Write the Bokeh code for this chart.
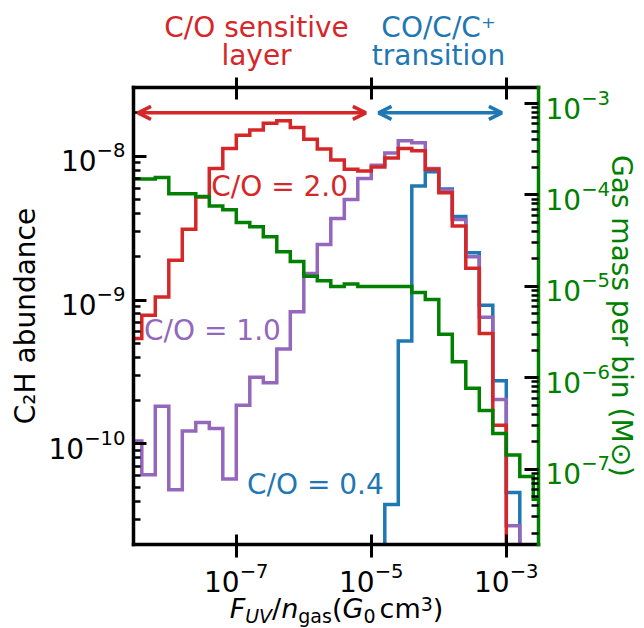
import math
from bokeh.plotting import figure
from bokeh.layouts import column
from bokeh.models import (Range1d, LogScale, LogAxis, FixedTicker, Label, Arrow,
                          OpenHead, CustomJSTickFormatter)
from bokeh.embed import file_html
from bokeh.resources import INLINE

# ---------------- data ----------------
# histogram bin edges, log10(F_UV / n_gas)
bin_edges_log10 = [-8.6, -8.4, -8.2, -8.0, -7.8, -7.6, -7.4, -7.2, -7.0, -6.8,
                   -6.6, -6.4, -6.2, -6.0, -5.8, -5.6, -5.4, -5.2, -5.0, -4.8,
                   -4.6, -4.4, -4.2, -4.0, -3.8, -3.6, -3.4, -3.2, -3.0, -2.8,
                   -2.6, -2.4]

# C2H abundance per bin (0 = below the plotted range)
c2h_co04 = [0, 0, 0, 0, 0, 0, 0, 0, 0, 0,
            0, 0, 0, 0, 0, 0, 0, 0, 0, 3.8e-11,
            5.2e-10, 6.2e-9, 7.8e-9, 5.9e-9, 3.8e-9, 2.13e-9, 9.2e-10, 2.75e-10, 4.6e-11, 0,
            0]
c2h_co10 = [1.05e-10, 6.1e-11, 1.83e-10, 4.8e-11, 1.23e-10, 1.41e-10, 1.28e-10, 5.7e-11, 1.86e-10, 2.91e-10,
            2.66e-10, 4.56e-10, 8.3e-10, 1.53e-9, 2.43e-9, 3.69e-9, 5.0e-9, 7.0e-9, 8.65e-9, 1.05e-8,
            1.28e-8, 1.24e-8, 8.2e-9, 5.8e-9, 3.63e-9, 2.0e-9, 7.6e-10, 2.04e-10, 2.7e-11, 0,
            0]
c2h_co20 = [5.4e-10, 7.85e-10, 1.05e-9, 1.89e-9, 3.1e-9, 5.2e-9, 8.2e-9, 1.13e-8, 1.40e-8, 1.52e-8,
            1.69e-8, 1.76e-8, 1.58e-8, 1.31e-8, 1.12e-8, 9.4e-9, 8.1e-9, 7.9e-9, 8.4e-9, 9.7e-9,
            1.13e-8, 1.09e-8, 8.1e-9, 5.56e-9, 3.27e-9, 1.66e-9, 5.86e-10, 1.35e-10, 0, 0,
            0]
# gas mass per bin (Msun)
gas_mass = [1.5e-4, 1.5e-4, 1.55e-4, 1.03e-4, 1.03e-4, 9.6e-5, 7.6e-5, 6.9e-5, 5.0e-5, 4.5e-5,
            3.5e-5, 2.4e-5, 1.87e-5, 1.29e-5, 1.15e-5, 1.0e-5, 1.06e-5, 1.0e-5, 1.0e-5, 1.0e-5,
            1.0e-5, 8.6e-6, 7.2e-6, 3.0e-6, 1.5e-6, 7.7e-7, 4.4e-7, 2.45e-7, 1.43e-7, 8.3e-8,
            4.7e-8]

x_major_ticks = [1e-7, 1e-5, 1e-3]
left_major_ticks = [1e-10, 1e-9, 1e-8]
right_major_ticks = [1e-7, 1e-6, 1e-5, 1e-4, 1e-3]

series_labels = ["C/O = 0.4", "C/O = 1.0", "C/O = 2.0"]
region_labels = [["C/O sensitive", "layer"], ["CO/C/C\u207a", "transition"]]
y_label_left = "C\u2082H abundance"
y_label_right = "Gas mass per bin (M\u2299)"

# annotation placement (data coordinates)
label_pos = {"C/O = 2.0": (4.25e-8, 6.2e-9), "C/O = 1.0": (4.3e-9, 6.1e-10), "C/O = 0.4": (1.44e-7, 5.2e-11)}
arrow_y = 2e-8
red_arrow_x = (3.5e-9, 8.3e-6)
blue_arrow_x = (1.28e-5, 8.6e-4)

# ---------------- styling ----------------
RED, PURPLE, BLUE, GREEN = "#d62728", "#9467bd", "#1f77b4", "#008000"
FONT = "DejaVu Sans"
FS = 28
LW = 3.5

W = 644
H_TOP, H_MAIN, H_BOT = 77, 519, 32


def blank_fig(h):
    f = figure(width=W, height=h, x_range=Range1d(0, W), y_range=Range1d(h, 0),
               x_axis_location=None, y_axis_location=None, title=None,
               output_backend="svg", toolbar_location=None, min_border=0)
    f.outline_line_color = None
    f.xgrid.visible = False
    f.ygrid.visible = False
    f.background_fill_color = "white"
    f.border_fill_color = "white"
    return f


p = figure(width=W, height=H_MAIN, x_axis_type="log", y_axis_type="log",
           x_range=Range1d(3e-9, 3e-3), y_range=Range1d(2e-11, 3e-8),
           output_backend="svg", toolbar_location=None, title=None,
           min_border_left=133, min_border_right=106, min_border_top=10, min_border_bottom=52)
p.outline_line_color = None
p.xgrid.visible = False
p.ygrid.visible = False
p.background_fill_color = "white"
p.border_fill_color = "white"
p.extra_y_ranges = {"mass": Range1d(1.5e-8, 1.5e-3)}
p.extra_y_scales = {"mass": LogScale()}


def minor_list(k0, k1):
    return [m * 10.0 ** k for k in range(k0, k1) for m in range(2, 10)]


def style_axis(ax, tin, tout, min_in, line_color="black", label_color="black", standoff=8):
    ax.axis_line_width = LW
    ax.axis_line_color = line_color
    ax.axis_line_cap = "square"
    ax.major_tick_line_width = 3
    ax.major_tick_line_color = "black"
    ax.minor_tick_line_width = 2.5
    ax.minor_tick_line_color = "black"
    ax.major_tick_in = tin
    ax.major_tick_out = tout
    ax.minor_tick_in = min_in
    ax.minor_tick_out = 0
    ax.major_label_text_font = FONT
    ax.major_label_text_font_size = f"{FS}px"
    ax.major_label_text_color = label_color
    ax.major_label_standoff = standoff
    ax.axis_label_text_font = FONT
    ax.axis_label_text_font_size = f"{FS}px"
    ax.axis_label_text_font_style = "normal"
    ax.axis_label_text_color = label_color


xb = p.xaxis[0]
xb.ticker = FixedTicker(ticks=x_major_ticks, minor_ticks=[])
style_axis(xb, 10, 13, 0, standoff=4)

yl = p.yaxis[0]
yl.ticker = FixedTicker(ticks=left_major_ticks, minor_ticks=minor_list(-11, -7))
style_axis(yl, 13, 0, 7)
yl.axis_label = y_label_left
yl.axis_label_standoff = 4

xt = LogAxis(ticker=FixedTicker(ticks=x_major_ticks, minor_ticks=[]),
             formatter=CustomJSTickFormatter(code="return ''"))
style_axis(xt, 12, 10, 0, standoff=0)
xt.major_label_text_font_size = "1px"
p.add_layout(xt, "above")

yr = LogAxis(y_range_name="mass",
             ticker=FixedTicker(ticks=right_major_ticks, minor_ticks=minor_list(-8, -2)))
style_axis(yr, 14, 0, 7, line_color=GREEN, label_color=GREEN, standoff=7)
yr.axis_label = y_label_right
yr.axis_label_standoff = -8
p.add_layout(yr, "right")

FLOOR = 1e-30


def step_path(edges_log, vals):
    xs, ys = [], []
    for i, v in enumerate(vals):
        yv = v if v > 0 else FLOOR
        xs += [10.0 ** edges_log[i], 10.0 ** edges_log[i + 1]]
        ys += [yv, yv]
    return xs, ys


for vals, col in [(c2h_co04, BLUE), (c2h_co10, PURPLE), (c2h_co20, RED)]:
    xs, ys = step_path(bin_edges_log10, vals)
    p.line(xs, ys, line_color=col, line_width=LW, line_join="miter")

xs, ys = step_path(bin_edges_log10, gas_mass)
p.line(xs, ys, line_color=GREEN, line_width=LW, line_join="miter", y_range_name="mass")

# arrows
for (xa, xb_), col in [(red_arrow_x, RED), (blue_arrow_x, BLUE)]:
    p.add_layout(Arrow(start=OpenHead(size=13, line_color=col, line_width=LW),
                       end=OpenHead(size=13, line_color=col, line_width=LW),
                       x_start=xa, y_start=arrow_y, x_end=xb_, y_end=arrow_y,
                       line_color=col, line_width=LW))

# series labels
for txt, col in zip(series_labels, [BLUE, PURPLE, RED]):
    lx, ly = label_pos[txt]
    p.add_layout(Label(x=lx, y=ly, text=txt, text_color=col, text_font=FONT,
                       text_font_size=f"{FS}px", text_baseline="middle", text_align="left"))


def canvas_label(f, x, y_mid, text, color, size=FS, style="normal", align="left"):
    f.add_layout(Label(x=x, y=y_mid, x_units="canvas", y_units="canvas", text=text,
                       text_color=color, text_font=FONT, text_font_size=f"{size}px",
                       text_font_style=style, text_align=align, text_baseline="middle"))


# ---- header strip: region labels (y = visual middle of the line) ----
top = blank_fig(H_TOP)
for (l1, l2), cx, col in zip(region_labels, [256, 438], [RED, BLUE]):
    canvas_label(top, cx, 27, l1, col, align="center")
    canvas_label(top, cx, 55, l2, col, align="center")

# ---- bottom strip: x axis label  F_UV / n_gas (G_0 cm^3) ----
bot = blank_fig(H_BOT)

# DejaVu Sans advance widths (em)
EM = {" ": 0.318, "(": 0.390, ")": 0.390, "/": 0.337, "0": 0.636, "3": 0.636,
      "F": 0.575, "G": 0.775, "U": 0.733, "V": 0.684,
      "a": 0.613, "c": 0.550, "g": 0.635, "m": 0.974, "n": 0.634, "s": 0.521}
MID = 0.36  # middle of text above the baseline, in em


def run_width(t, size):
    return sum(EM.get(c, 0.6) for c in t) * size


def add_runs(f, runs, cx, base_y, color):
    total = sum(run_width(t, s) for t, s, _, _ in runs)
    x = cx - total / 2
    for t, s, st, sh in runs:
        canvas_label(f, x, base_y + sh - MID * s, t, color, size=s, style=st)
        x += run_width(t, s)


XFS = 27
SUB = 19
add_runs(bot, [("F", XFS, "italic", 0), ("UV", SUB, "italic", 4), ("/", XFS, "normal", 0),
               ("n", XFS, "italic", 0), ("gas", SUB, "normal", 4), ("(", XFS, "normal", 0),
               ("G", XFS, "italic", 0), ("0", SUB, "normal", 4), (" ", 13, "normal", 0),
               ("cm", XFS, "normal", 0), ("3", SUB, "normal", -8), (")", XFS, "normal", 0)],
         336, 22, "black")

layout = column(top, p, bot, spacing=0)
open("out.html", "w").write(file_html(layout, INLINE))
